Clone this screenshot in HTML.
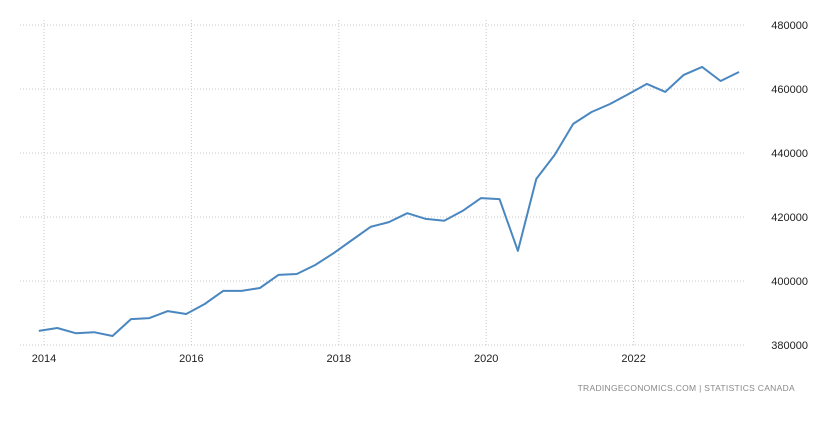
<!DOCTYPE html>
<html><head><meta charset="utf-8"><style>
body{margin:0;background:#fff;width:823px;height:417px;overflow:hidden;font-family:"Liberation Sans",sans-serif}
text{font-family:"Liberation Sans",sans-serif}
</style></head><body>
<svg id="chart" width="823" height="417" xmlns="http://www.w3.org/2000/svg"></svg>
<script>
const startYear = 2013.93;
const values = [384400,385300,383700,384000,382800,388100,388400,390600,389700,392800,396900,396900,397800,401900,402200,405000,408700,412800,416900,418400,421200,419400,418800,421900,425900,425600,409400,431900,439400,449100,452800,455300,458400,461600,459100,464400,466900,462500,465300];
const xTicks = [2014,2016,2018,2020,2022];
const yTicks = [380000,400000,420000,440000,460000,480000];
const NS="http://www.w3.org/2000/svg";
const svg=document.getElementById('chart');
function xs(t){return 44+(t-2014)*73.7;}
function ys(v){return 345-(v-380000)*0.0032;}
function mk(tag,attrs){const e=document.createElementNS(NS,tag);for(const k in attrs)e.setAttribute(k,attrs[k]);svg.appendChild(e);return e;}
yTicks.forEach(v=>{
  const l=mk('line',{x1:20,x2:745,y1:ys(v),y2:ys(v),stroke:'#c8c8c8','stroke-dasharray':'1,2'});
  
  
  const t=mk('text',{x:808,y:ys(v)+4,'font-size':'11','text-anchor':'end',fill:'#222'});
  t.textContent=v;
  
  
});
xTicks.forEach(y=>{
  const l=mk('line',{x1:xs(y),x2:xs(y),y1:20,y2:345,stroke:'#c8c8c8','stroke-dasharray':'1,2'});
  
  
  const t=mk('text',{x:xs(y),y:362,'font-size':'11','text-anchor':'middle',fill:'#222'});
  t.textContent=y;
  
  
});
const pts=values.map((v,i)=>xs(startYear+i*0.25).toFixed(1)+','+ys(v).toFixed(1)).join(' ');
const line=mk('polyline',{points:pts,fill:'none',stroke:'#4a87c0','stroke-width':'2','stroke-linejoin':'round'});


const src=mk('text',{x:795,y:391,'font-size':'8.5','text-anchor':'end',fill:'#888','letter-spacing':'0.3'});
src.textContent='TRADINGECONOMICS.COM  |  STATISTICS CANADA';


</script>
</body></html>
